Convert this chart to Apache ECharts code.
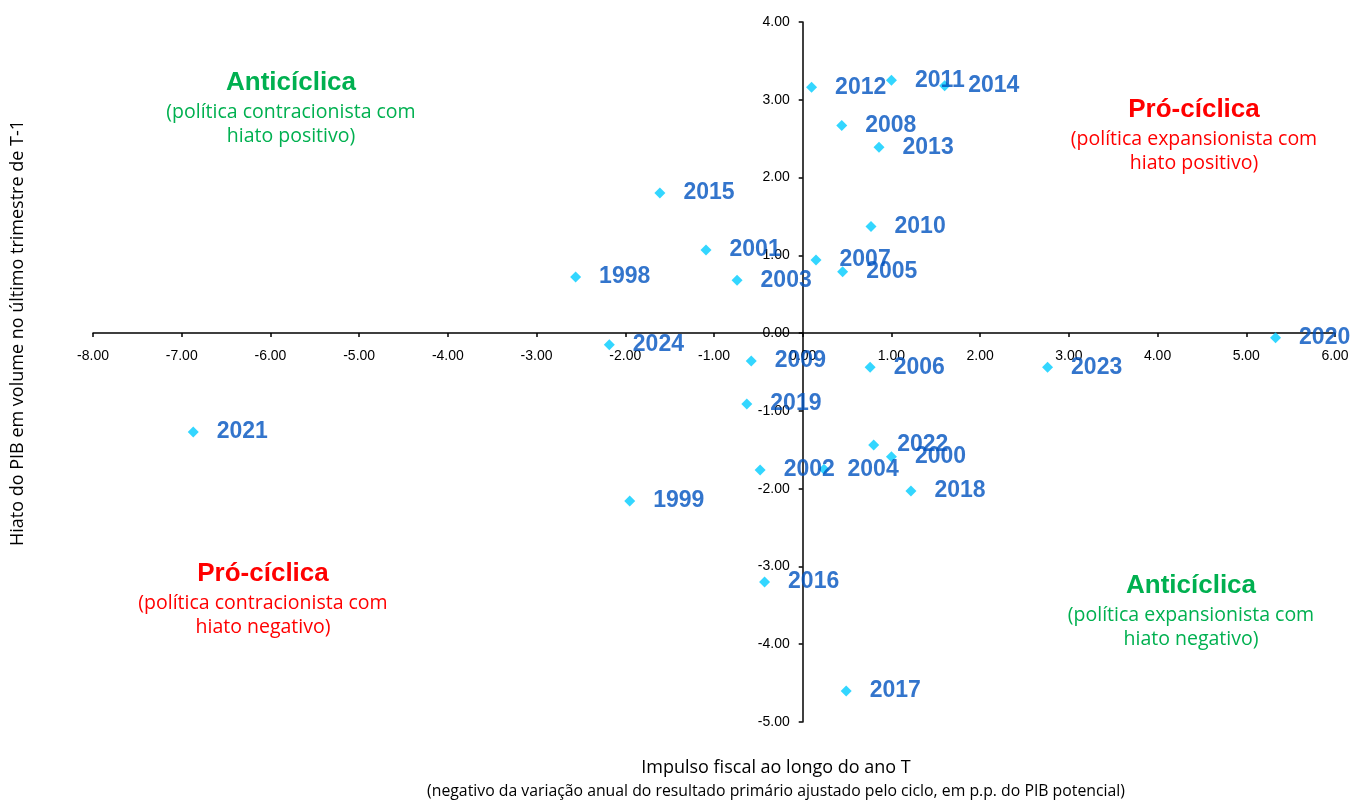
<!DOCTYPE html>
<html><head><meta charset="utf-8">
<script src="https://cdn.jsdelivr.net/npm/echarts@6/dist/echarts.min.js"></script>
<style>html,body{margin:0;padding:0;background:#fff}#c{width:1361px;height:802px}</style>
</head><body><div id="c"></div>
<script>
const years = ['1998','1999','2000','2001','2002','2003','2004','2005','2006','2007','2008','2009','2010','2011','2012','2013','2014','2015','2016','2017','2018','2019','2020','2021','2022','2023','2024'];
const fiscalImpulse = [-2.56,-1.95,1.00,-1.09,-0.48,-0.74,0.24,0.45,0.76,0.15,0.44,-0.58,0.77,1.00,0.10,0.86,1.60,-1.61,-0.43,0.49,1.22,-0.63,5.33,-6.87,0.80,2.76,-2.18];
const outputGap = [0.72,-2.16,-1.59,1.07,-1.76,0.68,-1.75,0.79,-0.44,0.94,2.67,-0.36,1.37,3.25,3.16,2.39,3.18,1.80,-3.20,-4.60,-2.03,-0.91,-0.06,-1.27,-1.44,-0.44,-0.15];
const xMin = -8, xMax = 6, yMin = -5, yMax = 4;
const xTitle = 'Impulso fiscal ao longo do ano T';
const xSubtitle = '(negativo da variação anual do resultado primário ajustado pelo ciclo, em p.p. do PIB potencial)';
const yTitle = 'Hiato do PIB em volume no último trimestre de T-1';

const W = 1361, H = 802;
const G = {left:93, right:26, top:22, bottom:80};
const gw = W - G.left - G.right, gh = H - G.top - G.bottom;
// shift axes so that they cross at zero (labels follow the lines)
const xAxisOffset = -gh * (0 - yMin) / (yMax - yMin);
const yAxisOffset = -gw * (0 - xMin) / (xMax - xMin);

const chart = echarts.init(document.getElementById('c'));
const green = '#00B050', red = '#FF0000';
function q(x,y,head,l1,l2,color){
  return [
    {type:'text', x:x, y:y, style:{text:head, fill:color, font:'bold 26px "Liberation Sans", Arial, sans-serif', align:'center', verticalAlign:'middle'}},
    {type:'text', x:x, y:y+29, style:{text:l1, fill:color, font:'19.5px "Open Sans", sans-serif', align:'center', verticalAlign:'middle'}},
    {type:'text', x:x, y:y+53, style:{text:l2, fill:color, font:'19.5px "Open Sans", sans-serif', align:'center', verticalAlign:'middle'}}
  ];
}
const axisFont = '"Liberation Sans", Arial, sans-serif';
const labelBlue = '#0052BF';
const option = {
  animation:false,
  grid:{left:G.left, right:G.right, top:G.top, bottom:G.bottom, containLabel:false},
  xAxis:{type:'value', min:xMin, max:xMax, interval:1, position:'bottom', offset:xAxisOffset,
    axisLine:{onZero:false, lineStyle:{color:'#000', width:1.5}},
    axisTick:{show:true, length:4, lineStyle:{color:'#000', width:1.5}},
    axisLabel:{formatter:v=>v.toFixed(2), color:'#000', fontSize:14, margin:16, fontFamily:axisFont},
    splitLine:{show:false}},
  yAxis:{type:'value', min:yMin, max:yMax, interval:1, position:'left', offset:yAxisOffset,
    axisLine:{onZero:false, lineStyle:{color:'#000', width:1.5}},
    axisTick:{show:true, length:4, lineStyle:{color:'#000', width:1.5}},
    axisLabel:{formatter:v=>v.toFixed(2), color:'#000', fontSize:14, margin:13, fontFamily:axisFont},
    splitLine:{show:false}},
  series:[{
    type:'scatter', symbol:'diamond', symbolSize:11,
    itemStyle:{color:'#00CCFF'},
    data: years.map((y,i)=>({value:[fiscalImpulse[i], outputGap[i]], name:y})),
    label:{show:true, position:'right', distance:18, formatter:p=>p.name, color:labelBlue, textBorderWidth:0, fontWeight:'bold', fontSize:23, fontFamily:'"Liberation Sans", Arial, sans-serif', offset:[0,6]},
    labelLayout:{hideOverlap:false}
  }],
  graphic:[
    ...q(291,83,'Anticíclica','(política contracionista com','hiato positivo)',green),
    ...q(1194,110,'Pró-cíclica','(política expansionista com','hiato positivo)',red),
    ...q(263,574,'Pró-cíclica','(política contracionista com','hiato negativo)',red),
    ...q(1191,586,'Anticíclica','(política expansionista com','hiato negativo)',green),
    {type:'text', x:776, y:768, style:{text:xTitle, fill:'#000', font:'18px "Open Sans", sans-serif', align:'center', verticalAlign:'middle'}},
    {type:'text', x:776, y:791, style:{text:xSubtitle, fill:'#000', font:'15.8px "Open Sans", sans-serif', align:'center', verticalAlign:'middle'}},
    {type:'text', x:18, y:333, rotation:Math.PI/2, style:{text:yTitle, fill:'#000', font:'18px "Open Sans", sans-serif', align:'center', verticalAlign:'middle'}}
  ]
};
chart.setOption(option);
</script></body></html>
